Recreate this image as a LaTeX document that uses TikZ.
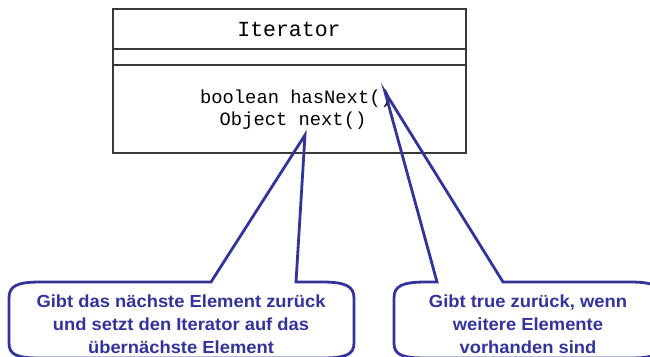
\documentclass[tikz,border=0pt]{standalone}
\usepackage{fontspec}
\newfontfamily\monofont{Liberation Mono}
\newfontfamily\callfont[FakeStretch=1.05]{Liberation Sans}
\definecolor{callblue}{HTML}{333399}
\definecolor{boxgray}{HTML}{3A3A3A}
\begin{document}
\begin{tikzpicture}[x=1pt,y=-1pt,
  classbox/.style={draw=boxgray,line width=1.1pt,rectangle,inner sep=0pt},
  divider/.style={draw=boxgray,line width=1.1pt},
  monotext/.style={font=\monofont,text=black,inner sep=0pt,anchor=base},
  callshape/.style={draw=callblue,line width=2.8pt,line join=miter},
  calltext/.style={font=\callfont\bfseries\fontsize{17.5}{23}\selectfont,text=callblue,align=center,inner sep=0pt,anchor=base}
]
\useasboundingbox (0,0) rectangle (650,356);
\clip (0,0) rectangle (650,356);
% class box
\node[classbox,minimum width=353pt,minimum height=144pt] (cls) at (289.5,81) {};
\draw[divider] (113,49) -- (466,49);
\draw[divider] (113,65) -- (466,65);
\node[monotext,font=\monofont\fontsize{21.5}{24}\selectfont] (name) at (289,36) {Iterator};
\node[monotext,font=\monofont\fontsize{18.8}{22}\selectfont] (m1) at (296,103) {boolean hasNext()};
\node[monotext,font=\monofont\fontsize{18.8}{22}\selectfont] (m2) at (293,125) {Object next()};
% pointer tips
\coordinate (tipA) at (305,135);
\coordinate (tipB) at (385,92);
% left callout
\draw[callshape] (211,282) -- (tipA) -- (296,282) -- (322,282)
  .. controls (345,282) and (354,286) .. (354,298) -- (354,343)
  .. controls (354,355) and (345,358) .. (322,358) -- (40,358)
  .. controls (17,358) and (9,355) .. (9,343) -- (9,298)
  .. controls (9,286) and (17,282) .. (40,282) -- cycle;
% right callout
\draw[callshape] (437,282) -- (tipB) -- (503,282) -- (630,282)
  .. controls (653,282) and (662,286) .. (662,298) -- (662,343)
  .. controls (662,355) and (653,358) .. (630,358) -- (426,358)
  .. controls (402,358) and (394,355) .. (394,343) -- (394,298)
  .. controls (394,286) and (402,282) .. (426,282) -- cycle;
\node[calltext] (t1) at (181,353) {Gibt das nächste Element zurück\\und setzt den Iterator auf das\\übernächste Element};
\node[calltext] (t2) at (528,353) {Gibt true zurück, wenn\\weitere Elemente\\vorhanden sind};
\end{tikzpicture}
\end{document}
